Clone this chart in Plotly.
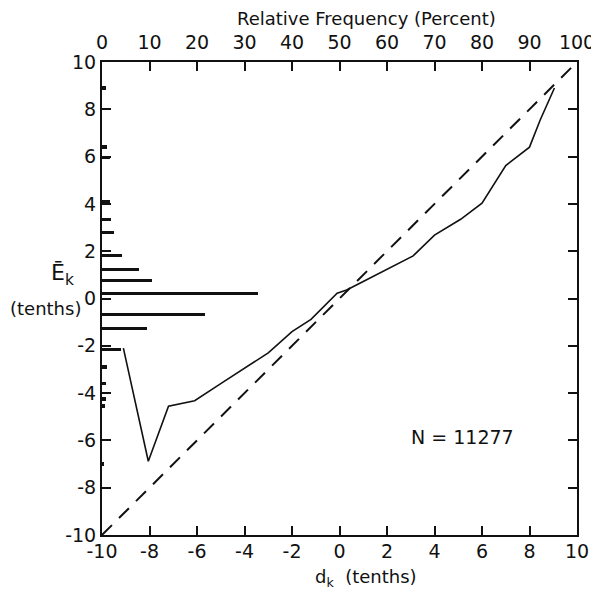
import plotly.graph_objects as go

# ---- data ----
curve_d = [-9.1, -8.05, -7.2, -6.1, -5.0, -4.2, -3.0, -2.0, -1.2, -0.1, 0.3, 1.0, 2.0, 3.1, 4.0, 5.1, 6.0, 7.0, 8.0, 8.45, 9.05]
curve_e = [-2.1, -6.88, -4.55, -4.32, -3.6, -3.07, -2.3, -1.4, -0.88, 0.22, 0.36, 0.72, 1.23, 1.8, 2.68, 3.35, 4.03, 5.62, 6.4, 7.55, 8.9]

diag_d = [-10, 10]
diag_e = [-10, 10]

hist_e = [8.9, 6.4, 5.95, 4.1, 3.34, 2.8, 1.81, 1.22, 0.75, 0.22, -0.68, -1.27, -2.15, -2.9, -3.6, -4.25, -4.55, -7.0]
hist_pct = [0.8, 1.0, 1.6, 1.6, 1.9, 2.5, 4.2, 7.8, 10.6, 32.8, 21.6, 9.4, 4.0, 1.0, 0.8, 0.8, 0.6, 0.3]

tick_vals = [-10, -8, -6, -4, -2, 0, 2, 4, 6, 8, 10]
tick_text = ["-10", "-8", "-6", "-4", "-2", "0", "2", "4", "6", "8", "10"]
pct_vals = [0, 10, 20, 30, 40, 50, 60, 70, 80, 90, 100]

n_label = "N = 11277"

FONT = "DejaVu Sans"
INK = "#111111"

# page body has an 8px default margin; compensate so the plot box lands at
# screen x 102..577, y 62..535
OFF = 8
W = H = 599
L, T = 102 - OFF, 62 - OFF
R = W - (577 - OFF)
B = H - (535 - OFF)
PW, PH = W - L - R, H - T - B


def px(xs):
    return (xs - OFF - L) / PW


def py(ys):
    return (H - B - (ys - OFF)) / PH


fig = go.Figure()

fig.add_trace(go.Bar(
    y=hist_e, x=hist_pct, orientation="h", base=0, width=0.14,
    marker=dict(color=INK, line=dict(width=0)),
    xaxis="x2", yaxis="y", showlegend=False, hoverinfo="skip"))

fig.add_trace(go.Scatter(
    x=diag_d, y=diag_e, mode="lines",
    line=dict(color=INK, width=2, dash="14px,10px"),
    showlegend=False, hoverinfo="skip"))

fig.add_trace(go.Scatter(
    x=curve_d, y=curve_e, mode="lines",
    line=dict(color=INK, width=1.6),
    showlegend=False, hoverinfo="skip"))

axis_common = dict(
    showgrid=False, zeroline=False, showline=True, linecolor=INK, linewidth=2,
    ticks="inside", ticklen=9, tickwidth=1.5, tickcolor=INK, automargin=False,
    tickfont=dict(family=FONT, size=19, color=INK))

fig.update_layout(
    width=W, height=H,
    margin=dict(l=L, r=R, t=T, b=B, autoexpand=False),
    paper_bgcolor="white", plot_bgcolor="white",
    bargap=0,
    xaxis=dict(range=[-10, 10], tickvals=tick_vals, ticktext=tick_text,
               ticklabelstandoff=-2, **axis_common),
    xaxis2=dict(range=[0, 100], tickvals=pct_vals, overlaying="x", side="top",
                anchor="y", ticklabelstandoff=3, **axis_common),
    yaxis=dict(range=[-10, 10], tickvals=tick_vals, ticktext=tick_text,
               mirror="ticks", ticklabelstandoff=0, **axis_common),
    annotations=[
        dict(text="Relative Frequency (Percent)", xref="paper", yref="paper",
             x=px(366), y=py(18), xanchor="center", yanchor="middle",
             showarrow=False, font=dict(family=FONT, size=18, color=INK)),
        dict(text="d<sub>k</sub>  (tenths)", xref="paper", yref="paper",
             x=px(366), y=py(578), xanchor="center", yanchor="middle",
             showarrow=False, font=dict(family=FONT, size=18, color=INK)),
        dict(text="Ē<sub>k</sub>", xref="paper", yref="paper", x=px(62), y=py(274),
             xanchor="center", yanchor="middle", showarrow=False,
             font=dict(family=FONT, size=22, color=INK)),
        dict(text="(tenths)", xref="paper", yref="paper", x=px(45), y=py(308),
             xanchor="center", yanchor="middle", showarrow=False,
             font=dict(family=FONT, size=18, color=INK)),
        dict(text=n_label, xref="x", yref="y", x=5.16, y=-5.86,
             showarrow=False, font=dict(family=FONT, size=19, color=INK)),
    ],
)

fig.write_html("out.html")
